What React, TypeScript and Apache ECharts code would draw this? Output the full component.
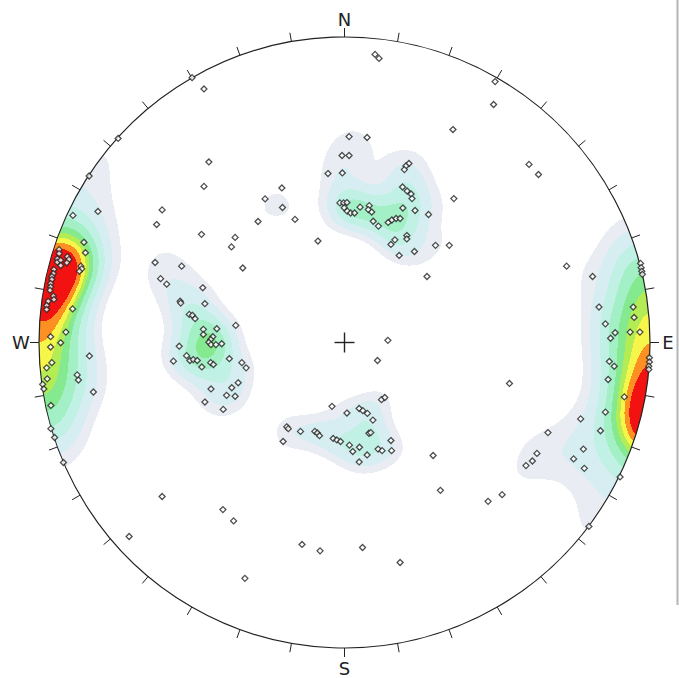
import React, { useEffect, useRef } from "react";
import * as echarts from "echarts";

// Poles read from the stereonet, in net units (east, north), radius = 100
const westPoles: [number, number][] = [
  [-88.9, 41.6], [-85.3, 32.8], [-84.8, 29.4], [-93.4, 30.4], [-93.4, 29.1], [-94.0, 27.4], [-94.0, 26.3],
  [-92.9, 26.9], [-92.9, 25.2], [-90.7, 28.1], [-90.2, 27.2], [-90.9, 26.1], [-86.3, 25.0], [-86.0, 24.1],
  [-86.8, 23.3], [-95.1, 23.9], [-95.3, 22.6], [-95.8, 21.6], [-95.8, 20.6], [-96.2, 19.3], [-96.2, 18.2],
  [-96.4, 17.1], [-95.3, 15.2], [-95.1, 14.1], [-97.0, 13.5], [-97.5, 12.1], [-97.5, 10.8], [-89.0, 11.0],
  [-91.2, 3.4], [-96.2, 1.9], [-92.9, -0.1], [-96.2, -1.5], [-83.5, -4.4], [-95.8, -6.6], [-97.5, -8.3],
  [-97.3, -11.9], [-87.5, -10.6], [-87.1, -12.3], [-98.8, -13.7], [-98.4, -15.2], [-82.2, -16.2],
  [-96.1, -20.6], [-96.1, -28.2], [-94.9, -31.1], [-92.0, -39.3],
];
const eastPoles: [number, number][] = [
  [72.7, 25.0], [81.2, 21.6], [96.9, 25.9], [97.1, 24.5], [97.3, 23.3], [97.5, 22.3], [83.3, 11.6],
  [94.5, 11.6], [94.8, 8.2], [85.4, 6.1], [88.6, 3.2], [87.1, 1.4], [93.5, 3.4], [96.7, 3.4],
  [99.8, -5.0], [99.8, -6.4], [99.6, -7.8], [99.6, -8.8], [86.7, -6.2], [88.3, -7.8], [86.3, -12.1],
  [91.6, -17.8], [85.4, -22.8], [77.3, -25.0], [83.8, -28.9], [78.2, -34.9], [75.0, -38.1], [78.5, -41.2],
  [90.2, -44.0], [80.0, -60.2], [66.6, -29.5], [63.0, -36.3], [61.5, -38.8], [59.4, -40.3],
];
const northPoles: [number, number][] = [
  [1.5, 67.4], [7.4, 67.1], [-0.8, 61.2], [1.5, 61.2], [21.1, 58.6], [20.1, 57.8], [19.6, 56.6],
  [-5.4, 55.3], [-0.7, 55.5], [19.0, 50.9], [20.5, 49.6], [21.8, 48.6], [22.1, 47.1], [-1.5, 45.7],
  [-0.3, 45.7], [0.8, 45.8], [-0.1, 44.1], [0.9, 43.0], [2.0, 42.4], [3.3, 42.4], [5.1, 44.3],
  [8.1, 44.8], [7.8, 43.5], [8.9, 42.7], [9.4, 39.7], [11.1, 38.1], [14.3, 39.3], [15.5, 40.1],
  [16.9, 40.6], [18.2, 40.6], [19.1, 44.0], [23.1, 43.2], [27.5, 41.9], [15.2, 32.1], [16.5, 33.6],
  [20.4, 35.0], [20.4, 33.9], [17.9, 28.5], [22.9, 29.8], [29.8, 31.8], [34.3, 31.8], [27.0, 21.6],
  [35.8, 47.1], [-8.7, 33.2],
];
const westCentralPoles: [number, number][] = [
  [-62.0, 26.2], [-53.3, 25.0], [-33.3, 24.4], [-60.2, 20.9], [-58.2, 19.1], [-46.4, 17.9], [-53.8, 13.5],
  [-53.6, 12.9], [-45.7, 12.7], [-50.8, 9.2], [-49.8, 8.9], [-48.9, 7.8], [-35.6, 5.6], [-46.2, 4.3],
  [-46.2, 2.6], [-41.8, 4.5], [-43.1, 1.9], [-43.8, 1.0], [-44.4, 0.1], [-43.7, -0.7], [-42.1, -0.7],
  [-40.2, -0.4], [-54.1, -1.2], [-51.7, -4.3], [-50.6, -5.9], [-49.5, -5.6], [-48.2, -5.9], [-56.0, -6.1],
  [-46.7, -8.0], [-43.8, -6.6], [-42.9, -7.2], [-37.7, -5.3], [-33.6, -6.6], [-32.2, -8.3], [-34.8, -13.2],
  [-36.9, -14.8], [-43.7, -15.2], [-38.6, -17.3], [-35.8, -17.6], [-45.7, -19.5], [-39.7, -21.9],
];
const southPoles: [number, number][] = [
  [-20.1, -32.4], [-18.9, -27.6], [-18.4, -28.2], [-14.4, -29.1], [-9.7, -29.1], [-8.9, -29.6], [-8.2, -30.5],
  [-4.1, -20.9], [-3.7, -31.4], [-2.5, -31.9], [-1.3, -32.4], [0.8, -23.1], [4.8, -21.6], [6.0, -22.3],
  [7.5, -23.2], [9.3, -25.4], [12.1, -18.7], [13.2, -18.0], [8.0, -29.7], [8.6, -29.5], [1.6, -33.6],
  [2.7, -35.7], [4.9, -34.3], [7.4, -36.8], [4.8, -39.1], [11.0, -34.9], [12.3, -35.4], [15.2, -32.1],
  [15.4, -35.4],
];
const scatteredPoles: [number, number][] = [
  [10.0, 94.3], [11.3, 93.0], [-49.9, 86.7], [-46.0, 83.0], [49.3, 85.4], [48.8, 77.9], [35.5, 69.7],
  [-74.1, 66.8], [-44.4, 59.1], [60.4, 58.3], [63.5, 55.0], [-83.6, 54.5], [-46.0, 51.1], [-80.7, 42.9],
  [-59.7, 43.4], [-20.5, 50.6], [-26.0, 47.0], [-20.3, 44.2], [-16.2, 40.3], [-28.3, 39.6], [-61.5, 38.6],
  [-46.8, 35.4], [-35.8, 34.4], [-37.0, 31.3], [14.2, 0.7], [10.8, -5.9], [54.0, -13.4], [29.0, -37.0],
  [31.4, -48.4], [47.0, -52.0], [51.6, -49.8], [-59.7, -50.4], [-39.8, -54.7], [-36.3, -58.4],
  [-70.5, -63.5], [-13.9, -66.1], [-8.0, -68.2], [5.9, -67.1], [18.2, -72.0], [-32.6, -77.2],
];

const compassLabels = ["N", "E", "S", "W"];
const labelOffsets = [18, 18, 20, 18];
const tickStepDeg = 10;
const fisherK = 115;
const levelFractions = [0.125, 0.2, 0.3, 0.4, 0.5, 0.58, 0.65, 0.72, 0.8];
const levelColors = [
  "#e9edf3", "#d6eef2", "#c1f0e5", "#a3efc6", "#85e98f", "#b3ec55", "#f6f54a", "#fc9022", "#f31212",
];

const allPoles = [
  ...westPoles, ...eastPoles, ...northPoles, ...westCentralPoles, ...southPoles, ...scatteredPoles,
];

// equal-angle (stereographic) lower-hemisphere inverse projection
function toVector(x: number, y: number): [number, number, number] {
  const h = Math.hypot(x, y);
  const r = Math.min(1, h / 100);
  const th = 2 * Math.atan(r);
  const s = Math.sin(th);
  const ux = h > 1e-9 ? x / h : 0;
  const uy = h > 1e-9 ? y / h : 0;
  return [s * ux, s * uy, -Math.cos(th)];
}

function buildContourRuns() {
  const vecs = allPoles.map(([x, y]) => toVector(x, y));
  const n = 201;
  const dens = new Float64Array(n * n);
  let maxD = 0;
  for (let j = 0; j < n; j++) {
    const y = 100 - j;
    for (let i = 0; i < n; i++) {
      const x = -100 + i;
      if (x * x + y * y > 103 * 103) continue;
      const v = toVector(x, y);
      let d = 0;
      for (let k = 0; k < vecs.length; k++) {
        const p = vecs[k];
        const dot = Math.abs(v[0] * p[0] + v[1] * p[1] + v[2] * p[2]);
        d += Math.exp(fisherK * (dot - 1));
      }
      dens[j * n + i] = d;
      if (d > maxD) maxD = d;
    }
  }
  const thresholds = levelFractions.map((f) => f * maxD);
  const sample = (x: number, y: number) => {
    const fx = Math.max(0, Math.min(n - 1.0001, x + 100));
    const fy = Math.max(0, Math.min(n - 1.0001, 100 - y));
    const i0 = Math.floor(fx), j0 = Math.floor(fy);
    const tx = fx - i0, ty = fy - j0;
    const a = dens[j0 * n + i0], b = dens[j0 * n + i0 + 1];
    const c = dens[(j0 + 1) * n + i0], e = dens[(j0 + 1) * n + i0 + 1];
    return (a * (1 - tx) + b * tx) * (1 - ty) + (c * (1 - tx) + e * tx) * ty;
  };
  const levelOf = (d: number) => {
    let l = 0;
    for (let k = 0; k < thresholds.length; k++) if (d >= thresholds[k]) l = k + 1;
    return l;
  };
  const rows = 611;
  const h = 200 / rows;
  const runs: number[][] = [];
  for (let r = 0; r < rows; r++) {
    const yTop = 100 - r * h;
    const yBot = 100 - (r + 1) * h;
    const yc = (yTop + yBot) / 2;
    const xc = Math.sqrt(Math.max(0, 100 * 100 - yc * yc));
    let cur = 0;
    let start = 0;
    let first = true;
    let lastX1 = 0;
    for (let c = 0; c < rows; c++) {
      const x0 = -100 + c * h;
      const x1 = x0 + h;
      const xm = (x0 + x1) / 2;
      if (Math.abs(xm) > xc) continue;
      const lv = levelOf(sample(xm, yc));
      const cx0 = first ? -xc : x0;
      first = false;
      if (lv !== cur) {
        if (cur > 0) runs.push([start, cx0, yTop, yBot, cur - 1]);
        cur = lv;
        start = cx0;
      }
      lastX1 = x1;
    }
    if (cur > 0) runs.push([start, Math.max(lastX1, xc), yTop, yBot, cur - 1]);
  }
  return runs;
}

export default function App() {
  const ref = useRef<HTMLDivElement>(null);
  useEffect(() => {
    document.body.style.margin = "0";
    const el = ref.current!;
    const chart = echarts.init(el, undefined, { renderer: "svg" });
    const runs = buildContourRuns();
    const frameItem = [[0, 0]];
    chart.setOption({
      animation: false,
      backgroundColor: "#ffffff",
      grid: { left: 39, top: 37, width: 611, height: 611 },
      xAxis: { type: "value", min: -100, max: 100, show: false },
      yAxis: { type: "value", min: -100, max: 100, show: false },
      graphic: [
        { type: "line", shape: { x1: 677.5, y1: 0, x2: 677.5, y2: 605 }, style: { stroke: "#b4b4b4", lineWidth: 2 } },
      ],
      series: [
        {
          type: "custom",
          silent: true,
          progressive: 0,
          z: 1,
          data: runs,
          renderItem: (_p: any, api: any) => {
            const a = api.coord([api.value(0), api.value(2)]);
            const b = api.coord([api.value(1), api.value(3)]);
            return {
              type: "rect",
              shape: { x: a[0], y: a[1], width: b[0] - a[0], height: b[1] - a[1] },
              style: { fill: levelColors[api.value(4)] },
            };
          },
        },
        {
          type: "custom",
          silent: true,
          z: 2,
          data: frameItem,
          renderItem: (_p: any, api: any) => {
            const c = api.coord([0, 0]);
            const R = api.coord([100, 0])[0] - c[0];
            const children: any[] = [
              { type: "circle", shape: { cx: c[0], cy: c[1], r: R }, style: { fill: "none", stroke: "#222", lineWidth: 1.2 } },
              { type: "line", shape: { x1: c[0] - 10, y1: c[1], x2: c[0] + 10, y2: c[1] }, style: { stroke: "#222", lineWidth: 1.4 } },
              { type: "line", shape: { x1: c[0], y1: c[1] - 10, x2: c[0], y2: c[1] + 10 }, style: { stroke: "#222", lineWidth: 1.4 } },
            ];
            for (let deg = 0; deg < 360; deg += tickStepDeg) {
              const t = (deg * Math.PI) / 180;
              const sx = Math.sin(t), sy = -Math.cos(t);
              children.push({
                type: "line",
                shape: { x1: c[0] + sx * R, y1: c[1] + sy * R, x2: c[0] + sx * (R + 9), y2: c[1] + sy * (R + 9) },
                style: { stroke: "#222", lineWidth: 1 },
              });
            }
            compassLabels.forEach((lab, i) => {
              const t = (i * 90 * Math.PI) / 180;
              const off = labelOffsets[i];
              children.push({
                type: "text",
                style: {
                  text: lab,
                  x: c[0] + Math.sin(t) * (R + off),
                  y: c[1] - Math.cos(t) * (R + off),
                  align: "center",
                  verticalAlign: "middle",
                  fontSize: 18,
                  fontFamily: "DejaVu Sans",
                  fill: "#222",
                },
              });
            });
            return { type: "group", children };
          },
        },
        {
          type: "scatter",
          z: 3,
          symbol: "diamond",
          symbolSize: 6,
          silent: true,
          itemStyle: { color: "#ffffff", borderColor: "#222222", borderWidth: 1.3 },
          data: allPoles,
        },
      ],
    });
    return () => chart.dispose();
  }, []);
  return <div ref={ref} style={{ width: 679, height: 678 }} />;
}
